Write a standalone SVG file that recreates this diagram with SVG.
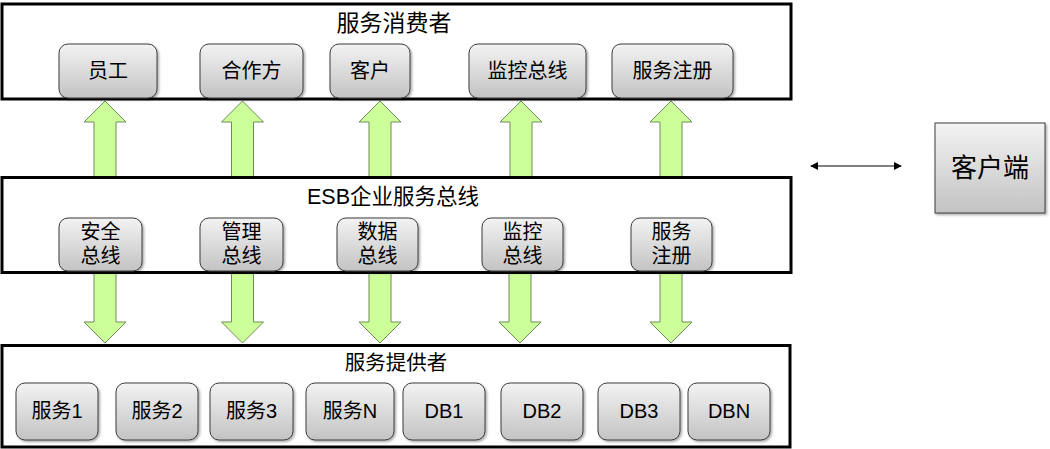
<svg xmlns="http://www.w3.org/2000/svg" width="1050" height="449" viewBox="0 0 1050 449">
  <defs>
    <linearGradient id="g" x1="0" y1="0" x2="0" y2="1">
      <stop offset="0" stop-color="#f3f3f3"/>
      <stop offset="1" stop-color="#c3c3c3"/>
    </linearGradient>
    <filter id="sh" x="-10%" y="-10%" width="130%" height="130%">
      <feDropShadow dx="1.5" dy="1.5" stdDeviation="1.2" flood-color="#000" flood-opacity="0.35"/>
    </filter>
    <marker id="ah" viewBox="0 0 10 10" refX="9" refY="5" markerWidth="8" markerHeight="8" markerUnits="userSpaceOnUse" orient="auto-start-reverse">
      <path d="M0,0 L10,5 L0,10 Z" fill="#000"/>
    </marker>
    <style>
      .ct { fill: #fff; stroke: #000; stroke-width: 3; }
      .nd { fill: url(#g); stroke: #3c3c3c; stroke-width: 1; filter: url(#sh); }
      .t { font-family: "Liberation Sans", "Noto Sans CJK SC", sans-serif; fill: #000; text-anchor: middle; }
      .ttl { font-size: 23px; }
      .ttl2 { font-size: 21.5px; }
      .ttl3 { font-size: 20.5px; }
      .nt { font-size: 20px; }
      .ar { fill: #ccff99; stroke: #6e8c57; stroke-width: 1; }
    </style>
  </defs>

  <g id="connectors">
    <!-- up arrows -->
    <path class="ar" d="M105,101 L126,122 L116,122 L116,178 L94,178 L94,122 L84,122 Z"/>
    <path class="ar" d="M242.5,101 L263.5,122 L253.5,122 L253.5,178 L231.5,178 L231.5,122 L221.5,122 Z"/>
    <path class="ar" d="M380,101 L401,122 L391,122 L391,178 L369,178 L369,122 L359,122 Z"/>
    <path class="ar" d="M521,101 L542,122 L532,122 L532,178 L510,178 L510,122 L500,122 Z"/>
    <path class="ar" d="M671,101 L692,122 L682,122 L682,178 L660,178 L660,122 L650,122 Z"/>
    <!-- down arrows -->
    <path class="ar" d="M105,343 L126,322 L116,322 L116,272 L94,272 L94,322 L84,322 Z"/>
    <path class="ar" d="M242.5,343 L263.5,322 L253.5,322 L253.5,272 L231.5,272 L231.5,322 L221.5,322 Z"/>
    <path class="ar" d="M380,343 L401,322 L391,322 L391,272 L369,272 L369,322 L359,322 Z"/>
    <path class="ar" d="M520,343 L541,322 L531,322 L531,272 L509,272 L509,322 L499,322 Z"/>
    <path class="ar" d="M671,343 L692,322 L682,322 L682,272 L660,272 L660,322 L650,322 Z"/>
    <!-- double arrow -->
    <line x1="811" y1="166" x2="901" y2="166" stroke="#000" stroke-width="1.2" marker-start="url(#ah)" marker-end="url(#ah)"/>
  </g>

  <g id="consumers">
    <rect class="ct" x="2" y="4" width="789" height="95"/>
    <text class="t ttl" x="394" y="31">服务消费者</text>
  </g>
  <g id="esb">
    <rect class="ct" x="2" y="177.5" width="789" height="95"/>
    <text class="t ttl2" x="393" y="204">ESB企业服务总线</text>
  </g>
  <g id="providers">
    <rect class="ct" x="2" y="345.5" width="788" height="101.5"/>
    <text class="t ttl3" x="396" y="370">服务提供者</text>
  </g>

  <g id="n-yuangong"><rect class="nd" x="59" y="44" width="98" height="54" rx="9"/><text class="t nt" x="108" y="78">员工</text></g>
  <g id="n-hezuofang"><rect class="nd" x="200" y="44" width="103" height="54" rx="9"/><text class="t nt" x="251.5" y="78">合作方</text></g>
  <g id="n-kehu"><rect class="nd" x="330" y="44" width="80" height="54" rx="9"/><text class="t nt" x="370" y="78">客户</text></g>
  <g id="n-jiankong"><rect class="nd" x="469" y="44" width="117" height="54" rx="9"/><text class="t nt" x="527.5" y="78">监控总线</text></g>
  <g id="n-zhuce"><rect class="nd" x="612" y="44" width="121" height="54" rx="9"/><text class="t nt" x="672.5" y="78">服务注册</text></g>

  <g id="n-anquan"><rect class="nd" x="59" y="218" width="83" height="53" rx="9"/><text class="t nt" x="100.5" y="239">安全</text><text class="t nt" x="100.5" y="263">总线</text></g>
  <g id="n-guanli"><rect class="nd" x="200" y="218" width="83" height="53" rx="9"/><text class="t nt" x="241.5" y="239">管理</text><text class="t nt" x="241.5" y="263">总线</text></g>
  <g id="n-shuju"><rect class="nd" x="337" y="218" width="81" height="53" rx="9"/><text class="t nt" x="377.5" y="239">数据</text><text class="t nt" x="377.5" y="263">总线</text></g>
  <g id="n-jiankong2"><rect class="nd" x="482" y="218" width="81" height="53" rx="9"/><text class="t nt" x="522.5" y="239">监控</text><text class="t nt" x="522.5" y="263">总线</text></g>
  <g id="n-zhuce2"><rect class="nd" x="631" y="218" width="81" height="53" rx="9"/><text class="t nt" x="671.5" y="239">服务</text><text class="t nt" x="671.5" y="263">注册</text></g>

  <g id="n-fw1"><rect class="nd" x="16" y="383" width="82" height="57" rx="9"/><text class="t nt" x="57" y="418">服务1</text></g>
  <g id="n-fw2"><rect class="nd" x="116" y="383" width="82" height="57" rx="9"/><text class="t nt" x="157" y="418">服务2</text></g>
  <g id="n-fw3"><rect class="nd" x="210" y="383" width="83" height="57" rx="9"/><text class="t nt" x="251.5" y="418">服务3</text></g>
  <g id="n-fwn"><rect class="nd" x="306" y="383" width="88" height="57" rx="9"/><text class="t nt" x="350" y="418">服务N</text></g>
  <g id="n-db1"><rect class="nd" x="403" y="383" width="82" height="57" rx="9"/><text class="t nt" x="444" y="418">DB1</text></g>
  <g id="n-db2"><rect class="nd" x="501" y="383" width="82" height="57" rx="9"/><text class="t nt" x="542" y="418">DB2</text></g>
  <g id="n-db3"><rect class="nd" x="598" y="383" width="82" height="57" rx="9"/><text class="t nt" x="639" y="418">DB3</text></g>
  <g id="n-dbn"><rect class="nd" x="688" y="383" width="82" height="57" rx="9"/><text class="t nt" x="729" y="418">DBN</text></g>

  <g id="n-client"><rect class="nd" x="935" y="123" width="110" height="90"/><text class="t" style="font-size:26px" x="990" y="177">客户端</text></g>
</svg>
